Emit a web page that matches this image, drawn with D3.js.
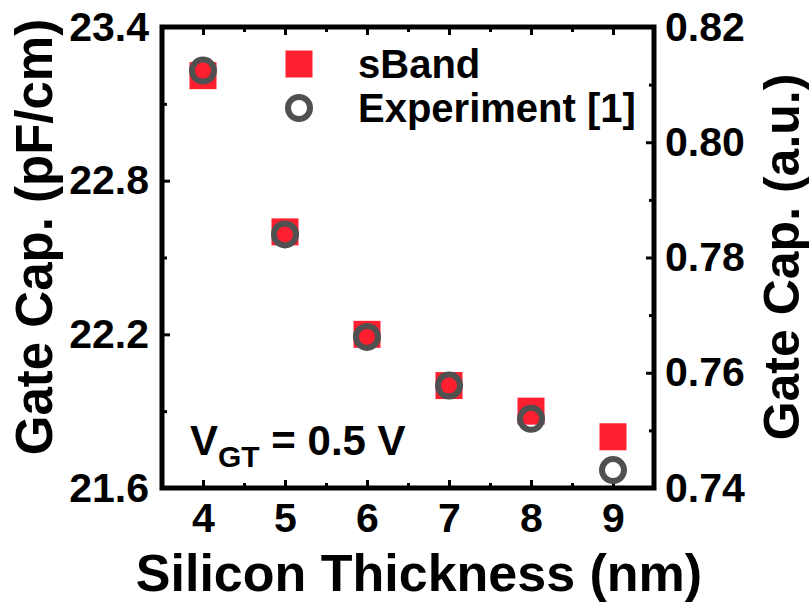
<!DOCTYPE html>
<html>
<head>
<meta charset="utf-8">
<script src="https://cdn.jsdelivr.net/npm/d3@7"></script>
<style>
  html, body { margin: 0; padding: 0; background: #fff; }
  svg { display: block; font-family: "Liberation Sans", Arial, sans-serif; font-weight: bold; }
  .tick text { fill: #000; }
</style>
</head>
<body>
<svg id="chart" width="812" height="606"></svg>
<script>
// Silicon thickness (nm) and gate capacitance (pF/cm)
const thickness = [4, 5, 6, 7, 8, 9];
const sBand = [23.21, 22.60, 22.20, 22.00, 21.90, 21.80];
const experiment = [23.23, 22.59, 22.19, 22.00, 21.87, 21.67];

// Tick values
const xMajor = [4, 5, 6, 7, 8, 9];
const xMinor = [4.5, 5.5, 6.5, 7.5, 8.5];
const yLeftMajor = [21.6, 22.2, 22.8, 23.4];
const yLeftMinor = [21.9, 22.5, 23.1];
const yRightMajor = [0.74, 0.76, 0.78, 0.80, 0.82];
const yRightMinor = [0.75, 0.77, 0.79, 0.81];

const seriesNames = ["sBand", "Experiment [1]"];

const svg = d3.select("#chart");
const m = { left: 162, right: 654, top: 27, bottom: 488 };

const x = d3.scaleLinear().domain([3.5, 9.5]).range([m.left, m.right]);
const yL = d3.scaleLinear().domain([21.6, 23.4]).range([m.bottom, m.top]);
const yR = d3.scaleLinear().domain([0.74, 0.82]).range([m.bottom, m.top]);

const RED = "#ff1f2f";
const GREY = "#505050";
const tickFont = 41;

function styleAxis(g) {
  g.select(".domain").remove();
  g.selectAll(".tick line").attr("stroke", "#000").attr("stroke-width", 3);
  g.selectAll(".tick text").attr("font-size", tickFont).attr("font-weight", "bold")
    .attr("font-family", "'Liberation Sans', Arial, sans-serif");
}

// Bottom axis: labelled majors + minors
svg.append("g").attr("transform", `translate(0,${m.bottom})`)
  .call(d3.axisBottom(x).tickValues(xMajor).tickFormat(d3.format("d")).tickSize(-8).tickPadding(15))
  .call(styleAxis);
svg.append("g").attr("transform", `translate(0,${m.bottom})`)
  .call(d3.axisBottom(x).tickValues(xMinor).tickFormat("").tickSize(-5))
  .call(styleAxis);
// Top mirror ticks
svg.append("g").attr("transform", `translate(0,${m.top})`)
  .call(d3.axisTop(x).tickValues(xMajor).tickFormat("").tickSize(-8))
  .call(styleAxis);
svg.append("g").attr("transform", `translate(0,${m.top})`)
  .call(d3.axisTop(x).tickValues(xMinor).tickFormat("").tickSize(-5))
  .call(styleAxis);

// Left axis
svg.append("g").attr("transform", `translate(${m.left},0)`)
  .call(d3.axisLeft(yL).tickValues(yLeftMajor).tickFormat(d3.format(".1f")).tickSize(-8).tickPadding(13))
  .call(styleAxis);
svg.append("g").attr("transform", `translate(${m.left},0)`)
  .call(d3.axisLeft(yL).tickValues(yLeftMinor).tickFormat("").tickSize(-5))
  .call(styleAxis);

// Right axis
svg.append("g").attr("transform", `translate(${m.right},0)`)
  .call(d3.axisRight(yR).tickValues(yRightMajor).tickFormat(d3.format(".2f")).tickSize(-8).tickPadding(11))
  .call(styleAxis);
svg.append("g").attr("transform", `translate(${m.right},0)`)
  .call(d3.axisRight(yR).tickValues(yRightMinor).tickFormat("").tickSize(-5))
  .call(styleAxis);

// Frame
svg.append("rect")
  .attr("x", m.left).attr("y", m.top)
  .attr("width", m.right - m.left).attr("height", m.bottom - m.top)
  .attr("fill", "none").attr("stroke", "#000").attr("stroke-width", 5);

// sBand squares
const sq = 27;
svg.append("g").selectAll("rect").data(thickness).join("rect")
  .attr("x", (d) => x(d) - sq / 2)
  .attr("y", (d, i) => yL(sBand[i]) - sq / 2)
  .attr("width", sq).attr("height", sq)
  .attr("fill", RED);

// Experimental open circles
svg.append("g").selectAll("circle").data(thickness).join("circle")
  .attr("cx", (d) => x(d))
  .attr("cy", (d, i) => yL(experiment[i]))
  .attr("r", 11)
  .attr("fill", "none").attr("stroke", GREY).attr("stroke-width", 6);

// Legend
const lg = svg.append("g");
lg.append("rect").attr("x", 299 - sq / 2).attr("y", 64 - sq / 2)
  .attr("width", sq).attr("height", sq).attr("fill", RED);
lg.append("circle").attr("cx", 299).attr("cy", 108).attr("r", 11)
  .attr("fill", "none").attr("stroke", GREY).attr("stroke-width", 6);
lg.append("text").attr("x", 358).attr("y", 78).attr("font-size", 40).text(seriesNames[0]);
lg.append("text").attr("x", 358).attr("y", 122).attr("font-size", 40).text(seriesNames[1]);

// Bias annotation
const ann = svg.append("text").attr("x", 190).attr("y", 455).attr("font-size", 42);
ann.append("tspan").text("V");
ann.append("tspan").attr("font-size", 30).attr("dy", 12).text("GT");
ann.append("tspan").attr("dy", -12).text(" = 0.5 V");

// Axis titles
svg.append("text").attr("x", 419).attr("y", 591).attr("text-anchor", "middle")
  .attr("font-size", 52).text("Silicon Thickness (nm)");
svg.append("text").attr("transform", "translate(52,237) rotate(-90)")
  .attr("text-anchor", "middle").attr("font-size", 51).text("Gate Cap. (pF/cm)");
svg.append("text").attr("transform", "translate(799,257) rotate(-90)")
  .attr("text-anchor", "middle").attr("font-size", 50).text("Gate Cap. (a.u.)");
</script>
</body>
</html>
